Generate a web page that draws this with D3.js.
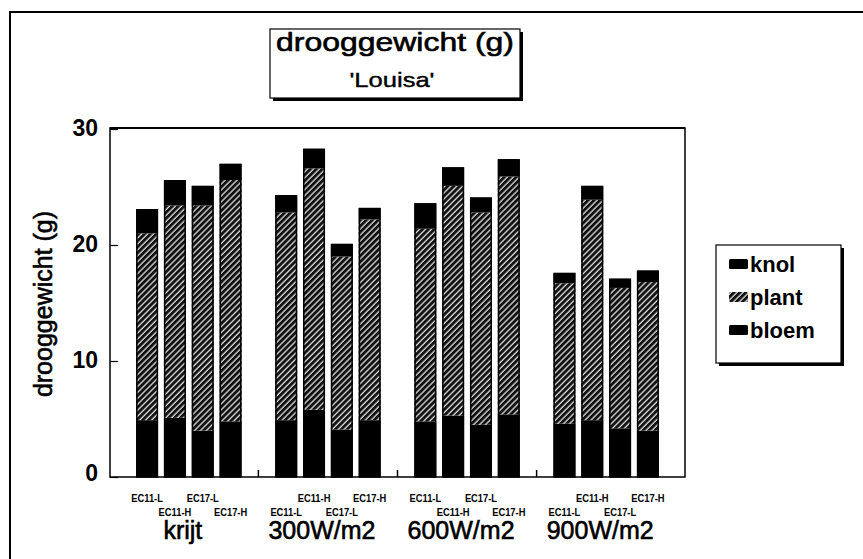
<!DOCTYPE html>
<html>
<head>
<meta charset="utf-8">
<script src="https://cdn.jsdelivr.net/npm/d3@7"></script>
<style>
  body { margin: 0; background: #fff; }
  text { font-family: "Liberation Sans", Arial, sans-serif; fill: #000; }
  .heavy { stroke: #000; stroke-width: 0.6px; }
</style>
</head>
<body>
<div id="chart"></div>
<script>
(function() {
    // ---- data ----
    const groups = ["krijt", "300W/m2", "600W/m2", "900W/m2"];
    const treatments = ["EC11-L", "EC11-H", "EC17-L", "EC17-H"];
    // which label row each bar name goes on (0 = upper, 1 = lower)
    const labelRows = [0, 1, 0, 1,  1, 0, 1, 0,  0, 1, 0, 1,  1, 0, 1, 0];

    const bloem = [4.9, 5.1, 4.0, 4.8,  4.9, 5.8, 4.1, 4.9,  4.8, 5.3, 4.5, 5.4,  4.6, 4.9, 4.2, 4.0];
    const plant = [16.1, 18.3, 19.4, 20.8,  17.9, 20.8, 14.9, 17.3,  16.6, 19.8, 18.3, 20.5,  12.1, 19.0, 12.1, 12.8];
    const knol  = [2.1, 2.2, 1.7, 1.4,  1.5, 1.7, 1.1, 1.0,  2.2, 1.6, 1.3, 1.5,  0.9, 1.2, 0.8, 1.0];

    const yTicks = [0, 10, 20, 30];
    const seriesKeys = ["bloem", "plant", "knol"];
    const legendKeys = ["knol", "plant", "bloem"];

    const width = 863, height = 559;
    const plot = { left: 110, right: 685, top: 128, bottom: 477 };

    const svg = d3.select("#chart").append("svg")
        .attr("width", width).attr("height", height);

    const defs = svg.append("defs");
    const pat = defs.append("pattern")
        .attr("id", "hatch")
        .attr("patternUnits", "userSpaceOnUse")
        .attr("width", 4.2).attr("height", 4.2)
        .attr("patternTransform", "rotate(45)");
    pat.append("rect").attr("width", 4.2).attr("height", 4.2).attr("fill", "#111");
    pat.append("line").attr("x1", 1).attr("y1", 0).attr("x2", 1).attr("y2", 4.2)
        .attr("stroke", "#eee").attr("stroke-width", 1.2);

    const fills = { bloem: "#000", plant: "url(#hatch)", knol: "#000" };

    // outer frame (only top/left visible in the original scan)
    svg.append("rect")
        .attr("x", 10).attr("y", 12)
        .attr("width", 1000).attr("height", 700)
        .attr("fill", "none").attr("stroke", "#000").attr("stroke-width", 2);

    // ---- rows ----
    const rows = bloem.map((b, i) => ({
        idx: Math.floor(i / 4) * 5 + (i % 4),
        group: Math.floor(i / 4),
        name: treatments[i % 4],
        row: labelRows[i],
        bloem: b, plant: plant[i], knol: knol[i]
    }));

    const x = d3.scaleLinear().domain([-4 / 3, 18 + 4 / 3]).range([plot.left, plot.right]);
    const y = d3.scaleLinear().domain([0, 30]).range([plot.bottom, plot.top + 1]);
    const barW = 22;

    const stacked = d3.stack().keys(seriesKeys)(rows);

    const g = svg.append("g");
    stacked.forEach(layer => {
        g.selectAll(null)
            .data(layer)
            .join("rect")
            .attr("x", d => x(d.data.idx) - barW / 2)
            .attr("width", barW)
            .attr("y", d => y(d[1]))
            .attr("height", d => y(d[0]) - y(d[1]))
            .attr("fill", fills[layer.key]);
    });
    // bar outlines
    g.selectAll(null)
        .data(rows)
        .join("rect")
        .attr("x", d => x(d.idx) - barW / 2 + 0.75)
        .attr("width", barW - 1.5)
        .attr("y", d => y(d.bloem + d.plant + d.knol) + 0.75)
        .attr("height", d => y(0) - y(d.bloem + d.plant + d.knol) - 0.75)
        .attr("fill", "none").attr("stroke", "#000").attr("stroke-width", 1.5);

    // plot frame
    svg.append("rect")
        .attr("x", plot.left).attr("y", plot.top)
        .attr("width", plot.right - plot.left).attr("height", plot.bottom - plot.top)
        .attr("fill", "none").attr("stroke", "#000").attr("stroke-width", 1.5);
    svg.append("line")
        .attr("x1", plot.left).attr("x2", plot.right)
        .attr("y1", plot.top).attr("y2", plot.top)
        .attr("stroke", "#000").attr("stroke-width", 2.2);

    // y axis: inward ticks
    const yAxis = d3.axisRight(y).tickValues(yTicks).tickSize(8).tickFormat("");
    svg.append("g")
        .attr("transform", `translate(${plot.left},0)`)
        .call(yAxis)
        .call(a => a.select(".domain").remove())
        .selectAll("line").attr("stroke-width", 1.2);

    svg.append("g").selectAll("text")
        .data(yTicks)
        .join("text")
        .attr("x", 98)
        .attr("y", d => y(d) - (d === 0 ? 4 : 1))
        .attr("dy", "0.35em")
        .attr("text-anchor", "end")
        .style("font-size", "23px")
        .style("font-weight", "bold")
        .text(d => d);

    // x axis: inward ticks between groups
    svg.append("g").selectAll("line")
        .data([4, 9, 14])
        .join("line")
        .attr("x1", d => x(d)).attr("x2", d => x(d))
        .attr("y1", plot.bottom).attr("y2", plot.bottom - 7)
        .attr("stroke", "#000").attr("stroke-width", 1.5);

    // treatment labels (two staggered rows)
    svg.append("g").selectAll("text")
        .data(rows)
        .join("text")
        .attr("transform", d => `translate(${x(d.idx)},${d.row ? 515.5 : 502}) scale(0.85,1)`)
        .attr("text-anchor", "middle")
        .style("font-size", "11px")
        .style("font-weight", "bold")
        .text(d => d.name);

    // group labels
    svg.append("g").selectAll("text")
        .data(groups)
        .join("text")
        .attr("class", "heavy")
        .attr("x", (d, i) => x(i * 5 + 1.5) - 6)
        .attr("y", 539)
        .attr("text-anchor", "middle")
        .style("font-size", "25px")
        .text(d => d);

    // y axis title
    svg.append("text")
        .attr("class", "heavy")
        .attr("transform", "translate(52,304) rotate(-90)")
        .attr("text-anchor", "middle")
        .style("font-size", "25px")
        .text("drooggewicht (g)");

    // title box with shadow
    const tb = { x: 270, y: 29, w: 250, h: 69 };
    svg.append("rect")
        .attr("x", tb.x + 3).attr("y", tb.y + 3)
        .attr("width", tb.w).attr("height", tb.h)
        .attr("fill", "#000");
    svg.append("rect")
        .attr("x", tb.x).attr("y", tb.y)
        .attr("width", tb.w).attr("height", tb.h)
        .attr("fill", "#fff").attr("stroke", "#000").attr("stroke-width", 1.2);
    svg.append("text")
        .attr("class", "heavy")
        .attr("x", tb.x + tb.w / 2).attr("y", 51)
        .attr("text-anchor", "middle")
        .attr("textLength", 238).attr("lengthAdjust", "spacingAndGlyphs")
        .style("font-size", "26px")
        .text("drooggewicht (g)");
    svg.append("text")
        .attr("class", "heavy")
        .attr("x", tb.x + tb.w / 2 - 3).attr("y", 87)
        .attr("text-anchor", "middle")
        .attr("textLength", 85).attr("lengthAdjust", "spacingAndGlyphs")
        .style("font-size", "21px")
        .style("stroke-width", "0.4px")
        .text("'Louisa'");

    // legend box with shadow
    const lb = { x: 716, y: 245, w: 125, h: 118 };
    svg.append("rect")
        .attr("x", lb.x + 3).attr("y", lb.y + 3)
        .attr("width", lb.w).attr("height", lb.h)
        .attr("fill", "#000");
    svg.append("rect")
        .attr("x", lb.x).attr("y", lb.y)
        .attr("width", lb.w).attr("height", lb.h)
        .attr("fill", "#fff").attr("stroke", "#000").attr("stroke-width", 1.2);

    const leg = svg.append("g").selectAll("g")
        .data(legendKeys)
        .join("g")
        .attr("transform", (d, i) => `translate(${lb.x + 13},${272 + i * 33})`);
    leg.append("rect")
        .attr("x", 0).attr("y", -13)
        .attr("width", 19).attr("height", 10)
        .attr("rx", 1.5)
        .attr("fill", d => fills[d]);
    leg.append("text")
        .attr("x", 21).attr("y", 0)
        .style("font-size", "22px")
        .style("font-weight", "bold")
        .text(d => d);
})();
</script>
</body>
</html>
